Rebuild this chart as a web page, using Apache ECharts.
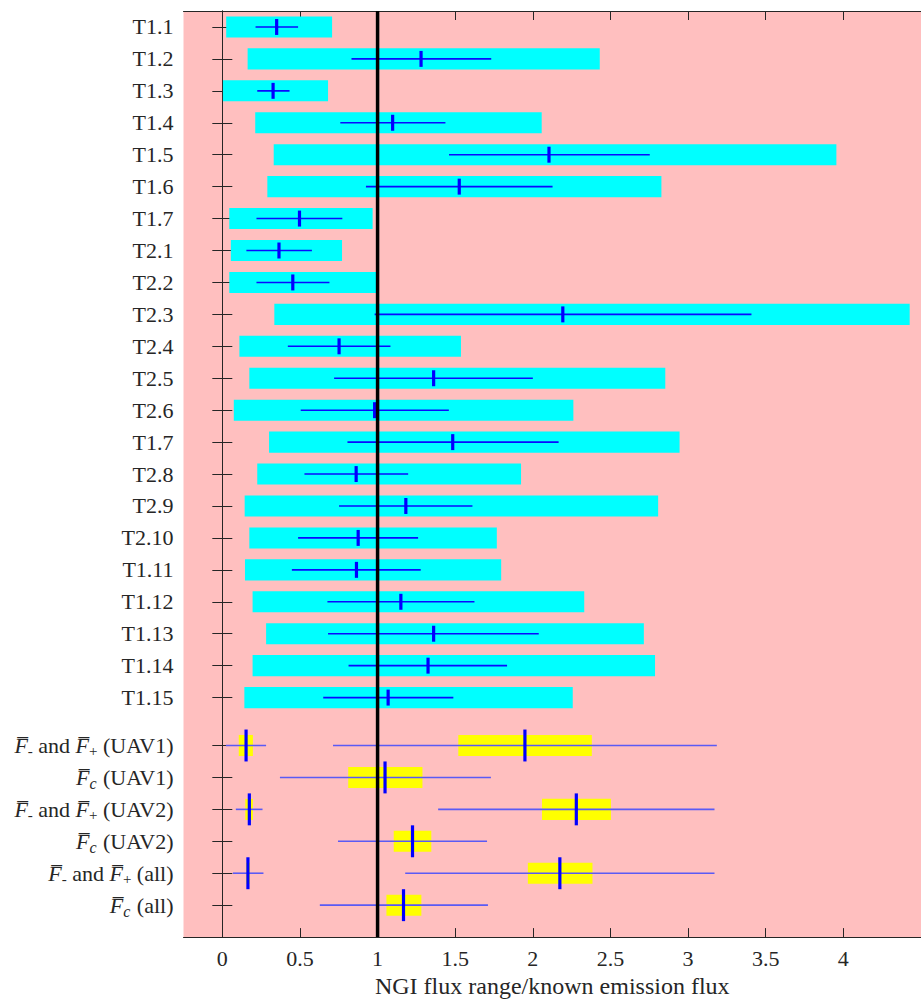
<!DOCTYPE html>
<html>
<head>
<meta charset="utf-8">
<script src="https://cdn.jsdelivr.net/npm/echarts@6/dist/echarts.min.js"></script>
<style>
  html, body { margin: 0; padding: 0; background: #ffffff; }
  #chart { width: 921px; height: 1003px; }
</style>
</head>
<body>
<div id="chart"></div>
<script>
// Individual tests: row labels and flux ratios
const testLabels = ['T1.1', 'T1.2', 'T1.3', 'T1.4', 'T1.5', 'T1.6', 'T1.7',
  'T2.1', 'T2.2', 'T2.3', 'T2.4', 'T2.5', 'T2.6', 'T1.7', 'T2.8', 'T2.9',
  'T2.10', 'T1.11', 'T1.12', 'T1.13', 'T1.14', 'T1.15'];
const testRangeLow  = [0.025, 0.163, 0.004, 0.212, 0.331, 0.290, 0.045,
  0.055, 0.045, 0.335, 0.110, 0.174, 0.074, 0.301, 0.225, 0.144,
  0.174, 0.146, 0.195, 0.282, 0.195, 0.142];
const testRangeHigh = [0.707, 2.431, 0.681, 2.057, 3.955, 2.828, 0.968,
  0.771, 0.990, 4.427, 1.537, 2.853, 2.261, 2.945, 1.924, 2.807,
  1.768, 1.796, 2.331, 2.715, 2.787, 2.257];
const testErrLow    = [0.214, 0.832, 0.225, 0.760, 1.460, 0.925, 0.220,
  0.155, 0.220, 0.981, 0.422, 0.720, 0.505, 0.806, 0.529, 0.752,
  0.488, 0.448, 0.677, 0.681, 0.813, 0.650];
const testErrHigh   = [0.488, 1.732, 0.433, 1.437, 2.753, 2.127, 0.773,
  0.577, 0.690, 3.408, 1.083, 2.000, 1.459, 2.166, 1.197, 1.611,
  1.261, 1.278, 1.624, 2.038, 1.834, 1.488];
const testCentre    = [0.350, 1.280, 0.327, 1.097, 2.104, 1.526, 0.497,
  0.365, 0.454, 2.193, 0.752, 1.361, 0.981, 1.484, 0.862, 1.182,
  0.875, 0.864, 1.150, 1.361, 1.325, 1.068];

// Summary rows (mean lower / upper bounds and central estimates)
const summaryLabels = [
  '{f|F\u0305}{s|-} and {f|F\u0305}{s|+} (UAV1)',
  '{f|F\u0305}{sc|c} (UAV1)',
  '{f|F\u0305}{s|-} and {f|F\u0305}{s|+} (UAV2)',
  '{f|F\u0305}{sc|c} (UAV2)',
  '{f|F\u0305}{s|-} and {f|F\u0305}{s|+} (all)',
  '{f|F\u0305}{sc|c} (all)'
];
const summaryRow      = [0, 0, 1, 2, 2, 3, 4, 4, 5];
const summaryBoxLow   = [0.106, 1.520, 0.811, 0.148, 2.059, 1.104, 0.153, 1.968, 1.057];
const summaryBoxHigh  = [0.197, 2.380, 1.289, 0.197, 2.503, 1.346, 0.178, 2.384, 1.282];
const summaryErrLow   = [0.023, 0.713, 0.371, 0.087, 1.390, 0.745, 0.068, 1.178, 0.628];
const summaryErrHigh  = [0.282, 3.185, 1.730, 0.259, 3.170, 1.705, 0.265, 3.170, 1.711];
const summaryCentre   = [0.153, 1.949, 1.048, 0.174, 2.280, 1.225, 0.165, 2.174, 1.167];

const xTickValues = [0, 0.5, 1, 1.5, 2, 2.5, 3, 3.5, 4];
const referenceRatio = 1;

// Row positions on the vertical value axis (tests, then a gap, then summaries)
const testPos = testLabels.map((_, i) => i + 1);
const summaryPos = summaryLabels.map((_, i) => testLabels.length + 1.5 + i);
const rowPositions = testPos.concat(summaryPos);
const labelAt = {};
testPos.forEach((p, i) => { labelAt[p] = testLabels[i]; });
summaryPos.forEach((p, i) => { labelAt[p] = summaryLabels[i]; });

const AXIS_COLOR = '#262626';
const FONT = 'Liberation Serif';
const TICK_SIZE = 22;
const NAME_SIZE = 24;

function rectItem(color, thick) {
  return function (params, api) {
    const y = api.value(2);
    const a = api.coord([api.value(0), y]);
    const b = api.coord([api.value(1), y]);
    const h = Math.abs(api.size([0, thick])[1]);
    return { type: 'rect', shape: { x: a[0], y: a[1] - h / 2, width: b[0] - a[0], height: h },
      style: { fill: color } };
  };
}
function hLineItem(color, width) {
  return function (params, api) {
    const y = api.value(2);
    const a = api.coord([api.value(0), y]);
    const b = api.coord([api.value(1), y]);
    return { type: 'line', shape: { x1: a[0], y1: a[1], x2: b[0], y2: b[1] },
      style: { stroke: color, lineWidth: width } };
  };
}
function vLineItem(color, width, half) {
  return function (params, api) {
    const x = api.value(0), y = api.value(1);
    const a = api.coord([x, y - half]);
    const b = api.coord([x, y + half]);
    return { type: 'line', shape: { x1: a[0], y1: a[1], x2: b[0], y2: b[1] },
      style: { stroke: color, lineWidth: width } };
  };
}

const testBoxes = testPos.map((p, i) => [testRangeLow[i], testRangeHigh[i], p]);
const testErrs = testPos.map((p, i) => [testErrLow[i], testErrHigh[i], p]);
const testMarks = testPos.map((p, i) => [testCentre[i], p]);
const sumBoxes = summaryRow.map((r, i) => [summaryBoxLow[i], summaryBoxHigh[i], summaryPos[r]]);
const sumErrs = summaryRow.map((r, i) => [summaryErrLow[i], summaryErrHigh[i], summaryPos[r]]);
const sumMarks = summaryRow.map((r, i) => [summaryCentre[i], summaryPos[r]]);

const chart = echarts.init(document.getElementById('chart'), null, { renderer: 'svg' });

const xBase = {
  type: 'value', min: -0.25, max: 4.5,
  axisLine: { show: true, lineStyle: { color: AXIS_COLOR, width: 1 } },
  axisTick: { show: true, inside: true, length: 9, customValues: xTickValues,
    lineStyle: { color: AXIS_COLOR, width: 1 } },
  splitLine: { show: false }
};
const yBase = {
  type: 'value', min: 0.5, max: 29.5, inverse: true,
  axisLine: { show: true, lineStyle: { color: AXIS_COLOR, width: 1 } },
  axisTick: { show: true, inside: true, length: 10, customValues: rowPositions,
    lineStyle: { color: AXIS_COLOR, width: 1 } },
  splitLine: { show: false }
};

chart.setOption({
  animation: false,
  backgroundColor: '#ffffff',
  textStyle: { fontFamily: FONT },
  grid: { left: 183.5, top: 11, width: 746, height: 929.7, show: true,
    backgroundColor: '#ffbfbf', borderWidth: 0 },
  xAxis: [
    Object.assign({}, xBase, {
      position: 'bottom',
      axisLabel: { show: true, customValues: xTickValues, margin: 10,
        fontFamily: FONT, fontSize: TICK_SIZE, color: AXIS_COLOR,
        formatter: v => String(Math.round(v * 10) / 10) },
      name: 'NGI flux range/known emission flux', nameLocation: 'middle', nameGap: 36,
      nameTextStyle: { fontFamily: FONT, fontSize: NAME_SIZE, color: AXIS_COLOR }
    }),
    Object.assign({}, xBase, { position: 'top', axisLabel: { show: false } })
  ],
  yAxis: [
    Object.assign({}, yBase, {
      position: 'left',
      axisLabel: { show: true, customValues: rowPositions, margin: 10,
        fontFamily: FONT, fontSize: TICK_SIZE, color: AXIS_COLOR,
        formatter: v => labelAt[v] || '',
        rich: {
          f: { fontFamily: FONT, fontSize: TICK_SIZE, fontStyle: 'italic', color: AXIS_COLOR, lineHeight: 30 },
          s: { fontFamily: FONT, fontSize: 15, color: AXIS_COLOR, lineHeight: 14, padding: [12, 0, 0, 0] },
          sc: { fontFamily: FONT, fontSize: 16, fontStyle: 'italic', color: AXIS_COLOR, lineHeight: 14, padding: [12, 1, 0, 0] }
        } }
    }),
    Object.assign({}, yBase, { position: 'right', axisLabel: { show: false } })
  ],
  series: [
    { type: 'custom', renderItem: rectItem('#00ffff', 0.66), data: testBoxes,
      encode: { x: [0, 1], y: 2 }, z: 2, silent: true },
    { type: 'custom', renderItem: rectItem('#ffff00', 0.66), data: sumBoxes,
      encode: { x: [0, 1], y: 2 }, z: 2, silent: true },
    { type: 'custom', renderItem: hLineItem('#0a0aff', 1.6), data: testErrs,
      encode: { x: [0, 1], y: 2 }, z: 3, silent: true },
    { type: 'custom', renderItem: hLineItem('#5a5af5', 1.6), data: sumErrs,
      encode: { x: [0, 1], y: 2 }, z: 3, silent: true },
    { type: 'custom', renderItem: vLineItem('#0000ff', 3.2, 0.25), data: testMarks,
      encode: { x: 0, y: 1 }, z: 4, silent: true },
    { type: 'custom', renderItem: vLineItem('#0000ff', 3.2, 0.5), data: sumMarks,
      encode: { x: 0, y: 1 }, z: 4, silent: true },
    { type: 'custom', data: [[referenceRatio]], encode: { x: 0 }, z: 5, silent: true,
      renderItem: function (params, api) {
        const a = api.coord([api.value(0), 0.5]);
        const b = api.coord([api.value(0), 29.5]);
        return { type: 'line', shape: { x1: a[0], y1: a[1], x2: b[0], y2: b[1] },
          style: { stroke: '#000000', lineWidth: 3.5 } };
      } }
  ]
});
</script>
</body>
</html>
